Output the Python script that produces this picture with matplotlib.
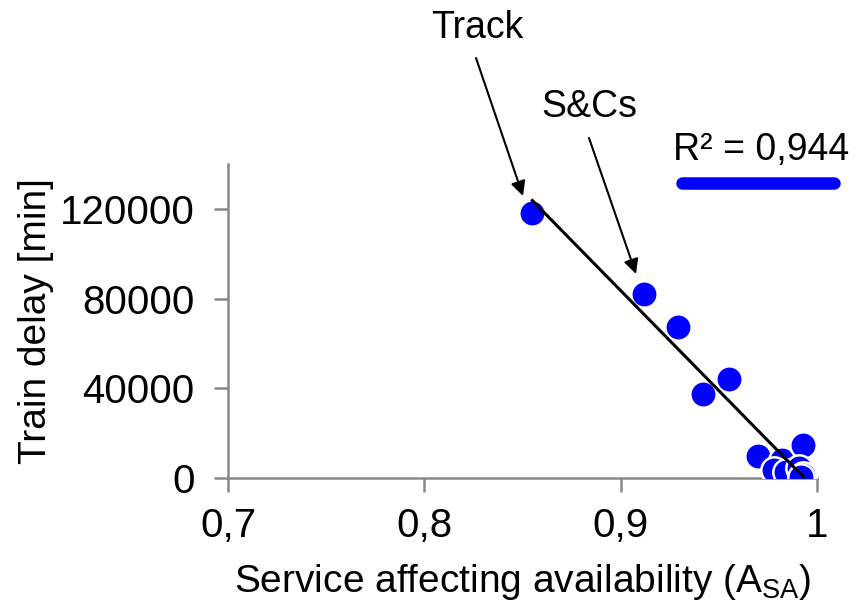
import numpy as np
import matplotlib
matplotlib.use("Agg")
import matplotlib.pyplot as plt
from matplotlib.ticker import FuncFormatter

plt.rcParams['font.family'] = ['Liberation Sans', 'DejaVu Sans']

# Data
availability = [0.855, 0.912, 0.929, 0.942, 0.955, 0.970, 0.982, 0.993,
                0.978, 0.984, 0.991, 0.993, 0.992]
train_delay = [118000, 82000, 67500, 37300, 44000, 10000, 8000, 14500,
               3500, 2500, 4500, 1500, 600]
x_ticks = [0.7, 0.8, 0.9, 1.0]
y_ticks = [0, 40000, 80000, 120000]
r2_label = "R² = 0,944"
annotations = ["Track", "S&Cs"]

W, H = 858, 605
fig = plt.figure(figsize=(W / 100, H / 100), dpi=100)
ax = fig.add_axes([228 / W, 1 - 478 / H, (817 - 228) / W, (478 - 164) / H])

blue = '#0000FF'
ax.scatter(availability, train_delay, s=360, color=blue, edgecolor='white',
           linewidth=1.8, zorder=3)

# linear trendline
coef = np.polyfit(availability, train_delay, 1)
xs = np.array([min(availability), max(availability)])
ax.plot(xs, np.polyval(coef, xs), color='black', linewidth=2.2, zorder=4)

ax.set_xlim(0.7, 1.0)
ax.set_ylim(0, 140000)
ax.set_xticks(x_ticks)
ax.set_yticks(y_ticks)
ax.xaxis.set_major_formatter(FuncFormatter(lambda v, p: ('%g' % v).replace('.', ',')))
ax.yaxis.set_major_formatter(FuncFormatter(lambda v, p: '%d' % v))

for s in ['top', 'right']:
    ax.spines[s].set_visible(False)
for s in ['left', 'bottom']:
    ax.spines[s].set_color('#898989')
    ax.spines[s].set_linewidth(1.8)
ax.tick_params(axis='both', colors='#898989', length=10, width=1.8,
               labelcolor='black', labelsize=29)
ax.tick_params(axis='x', pad=11)
ax.tick_params(axis='y', pad=14)

ax.set_xlabel(r'Service affecting availability (A$_{\mathregular{SA}}$)',
              fontsize=28, labelpad=12)
ax.set_ylabel('Train delay [min]', fontsize=28)
ax.yaxis.label.set_verticalalignment('center')
ax.yaxis.set_label_coords((36 - 228) / 589, 0.5)

# R² legend-like entry
fig.text(761 / W, 1 - 150 / H, r2_label, fontsize=27, ha='center', va='center')
fig.add_artist(plt.Line2D([682 / W, 834 / W], [1 - 183 / H, 1 - 183 / H],
                          color=blue, linewidth=9, solid_capstyle='round'))

# annotations
fig.text(477 / W, 1 - 28 / H, annotations[0], fontsize=27, ha='center', va='center')
fig.text(589 / W, 1 - 107 / H, annotations[1], fontsize=27, ha='center', va='center')
arrowprops = dict(arrowstyle='-|>', color='black', lw=1.5, mutation_scale=22,
                  shrinkA=0, shrinkB=0)
ax.annotate('', xy=(523, H - 196), xycoords='figure pixels',
            xytext=(476, H - 58), textcoords='figure pixels', arrowprops=arrowprops)
ax.annotate('', xy=(636, H - 274), xycoords='figure pixels',
            xytext=(589, H - 138), textcoords='figure pixels', arrowprops=arrowprops)

fig.savefig('out.png', dpi=100)
